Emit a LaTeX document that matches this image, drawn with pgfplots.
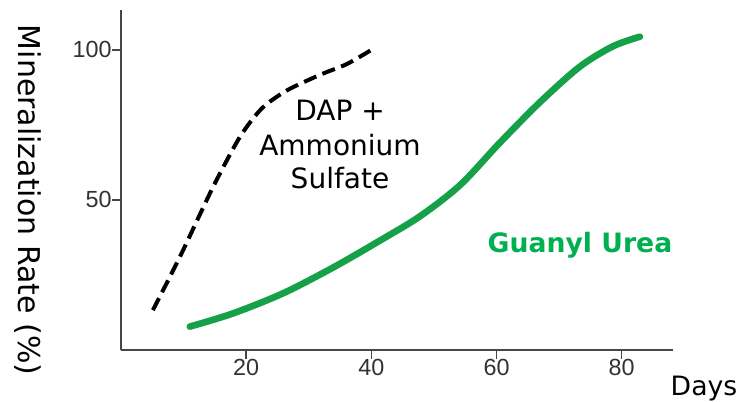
\documentclass[border=0pt]{standalone}
\usepackage{pgfplots}
\pgfplotsset{compat=1.18}
\usepackage{fontspec}
\setmainfont{DejaVu Sans}
\newfontfamily\tickfont{Liberation Sans}

\definecolor{guanyl}{RGB}{22,160,72}
\definecolor{guanyltext}{RGB}{0,176,80}
\definecolor{axisgray}{RGB}{70,70,70}
\definecolor{ticktext}{RGB}{50,50,50}

\begin{document}
\begin{tikzpicture}
% 1px of the reference = 0.75pt
\path[use as bounding box] (0,0) rectangle (566.25pt,300.75pt);

\begin{axis}[
  at={(90.75pt,38.25pt)},
  anchor=origin,
  scale only axis,
  width=414pt, height=255pt,
  xmin=0, xmax=88.2,
  ymin=0, ymax=113.3,
  axis x line=bottom,
  axis y line=left,
  axis line style={-, axisgray, line width=1.5pt},
  tick align=outside,
  major tick length=6.5pt,
  every tick/.style={axisgray, line width=1.2pt},
  xtick={20,40,60,80},
  ytick={50,100},
  tick label style={font=\tickfont\fontsize{17.5}{20}\selectfont, text=ticktext},
  /pgf/number format/assume math mode=true,
  xticklabel style={yshift=3pt},
  yticklabel style={xshift=3pt},
  clip=false,
]
% DAP + Ammonium Sulfate
\addplot [black, line width=3pt, dash pattern=on 10pt off 5pt, smooth, tension=0.45]
coordinates {
(5.1,13.3) (9.4,31) (14.7,54.3) (19.0,71) (22.5,80.5) (26.5,86.5)
(31.8,91.7) (36.1,95.3) (40.0,100)
};
% Guanyl Urea
\addplot [guanyl, line width=5pt, line cap=round, smooth, tension=0.5]
coordinates {
(11,7.8) (17.9,12.2) (25.9,18.9) (33.9,27.5) (41.4,36.5) (47.8,44.6)
(54.2,55) (60.5,69) (66.9,82.5) (73.3,94.4) (78.6,101.2) (82.9,104.4)
};
\end{axis}

\node[rotate=-90, font=\fontsize{22.5}{26}\selectfont] at (21pt,150.75pt) {Mineralization Rate (\%)};
\node[anchor=base, font=\fontsize{20}{24}\selectfont] at (528pt,4.5pt) {Days};

\node[anchor=base, font=\fontsize{21}{24}\selectfont] at (255pt,210.75pt) {DAP +};
\node[anchor=base, font=\fontsize{21}{24}\selectfont] at (255pt,184.5pt) {Ammonium};
\node[anchor=base, font=\fontsize{21}{24}\selectfont] at (255pt,159.75pt) {Sulfate};

\node[anchor=base, text=guanyltext, font=\bfseries\fontsize{20}{24}\selectfont] at (435pt,111.75pt) {Guanyl Urea};
\end{tikzpicture}
\end{document}
